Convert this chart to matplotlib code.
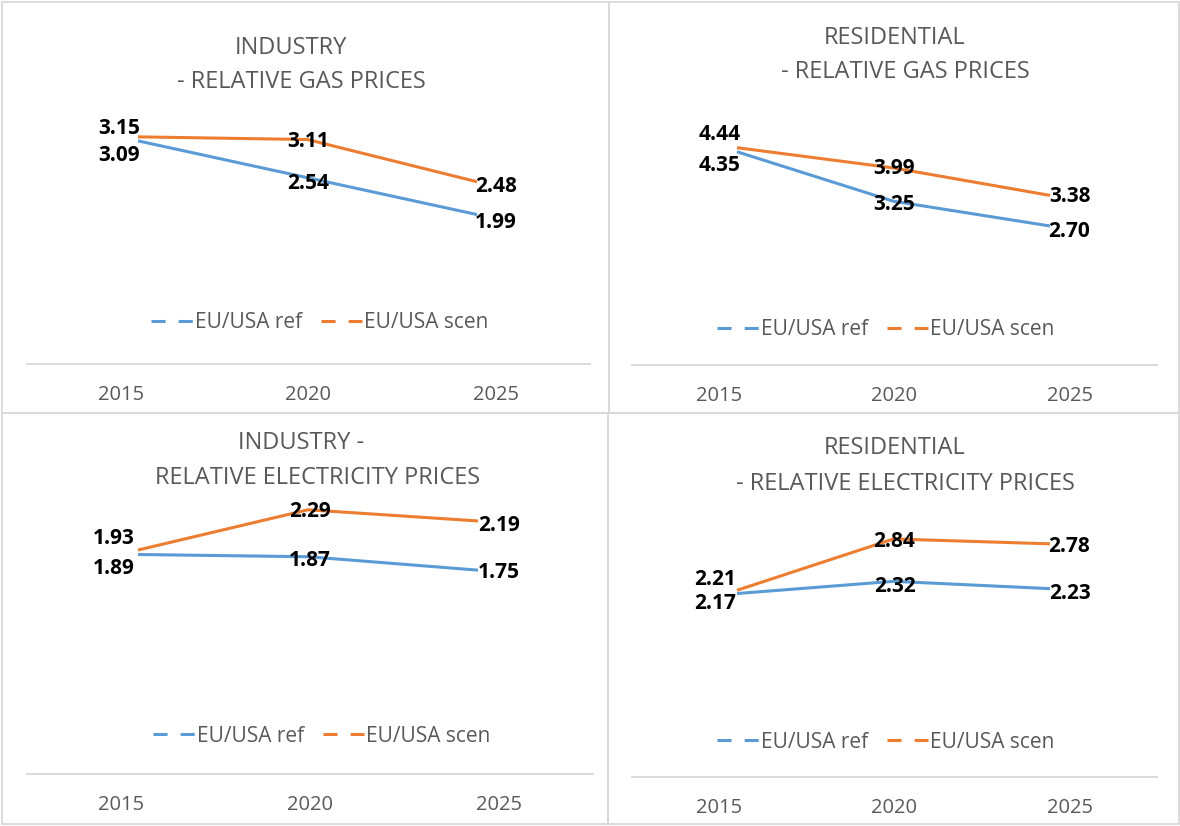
import matplotlib
matplotlib.use("Agg")
import matplotlib.pyplot as plt
from matplotlib.lines import Line2D
from matplotlib.patches import Rectangle

W, H = 1180, 826

years = ["2015", "2020", "2025"]
series_names = ["EU/USA ref", "EU/USA scen"]

ind_gas_ref = [3.09, 2.54, 1.99]
ind_gas_scen = [3.15, 3.11, 2.48]
res_gas_ref = [4.35, 3.25, 2.70]
res_gas_scen = [4.44, 3.99, 3.38]
ind_el_ref = [1.89, 1.87, 1.75]
ind_el_scen = [1.93, 2.29, 2.19]
res_el_ref = [2.17, 2.32, 2.23]
res_el_scen = [2.21, 2.84, 2.78]

BLUE = "#5B9BD5"
ORANGE = "#ED7D31"
GREY = "#595959"
RULE = "#D9D9D9"

plt.rcParams["font.family"] = ["Open Sans", "DejaVu Sans"]

# layout in pixels of the 1180x826 canvas
panels = [
    dict(ref=ind_gas_ref, scen=ind_gas_scen,
         box=(2, 2, 609, 413), ax_x=(27, 590), ax_y=364, pts=(138, 477),
         zero=347.9, scale=67.0, legend=(320, 323),
         titles=[("INDUSTRY", 291, 46), ("- RELATIVE GAS PRICES", 301, 80)],
         ref_dy=[-20, -11, -13], scen_dy=[3, -7.5, -10], dx0=-2),
    dict(ref=res_gas_ref, scen=res_gas_scen,
         box=(609, 2, 1179, 413), ax_x=(632, 1157), ax_y=365, pts=(737, 1050),
         zero=347.5, scale=45.0, legend=(886, 330),
         titles=[("RESIDENTIAL", 895, 35), ("- RELATIVE GAS PRICES", 905, 69)],
         ref_dy=[-19, -9, -11], scen_dy=[7.5, -5.7, -7], dx0=0),
    dict(ref=ind_el_ref, scen=ind_el_scen,
         box=(2, 413, 608, 824), ax_x=(27, 593), ax_y=774, pts=(138, 478),
         zero=765.8, scale=111.8, legend=(322, 736),
         titles=[("INDUSTRY -", 301, 441), ("RELATIVE ELECTRICITY PRICES", 318, 476)],
         ref_dy=[-20, -9.3, -8], scen_dy=[6, -7, -9.6], dx0=-8),
    dict(ref=res_el_ref, scen=res_el_scen,
         box=(608, 413, 1179, 824), ax_x=(632, 1157), ax_y=777, pts=(737, 1050),
         zero=770.4, scale=81.5, legend=(886, 742),
         titles=[("RESIDENTIAL", 895, 446), ("- RELATIVE ELECTRICITY PRICES", 905, 481)],
         ref_dy=[-15, -10.7, -10], scen_dy=[5.3, -8, -8.2], dx0=-4),
]

fig = plt.figure(figsize=(W / 100, H / 100), dpi=100)
fig.patch.set_facecolor("white")

for p in panels:
    bx0, by0, bx1, by1 = p["box"]
    fig.add_artist(Rectangle((bx0 / W, 1 - by1 / H), (bx1 - bx0) / W, (by1 - by0) / H,
                             transform=fig.transFigure, fill=False, ec=RULE, lw=1.3))

    x0, x1 = p["ax_x"]
    top = p["ax_y"] - 270
    ax = fig.add_axes([x0 / W, 1 - p["ax_y"] / H, (x1 - x0) / W, (p["ax_y"] - top) / H])
    ax.patch.set_alpha(0)

    u = 2 / (p["pts"][1] - p["pts"][0])
    xmin = -(p["pts"][0] - x0) * u
    xmax = 2 + (x1 - p["pts"][1]) * u
    ax.set_xlim(xmin, xmax)
    ax.set_ylim(-(p["ax_y"] - p["zero"]) / p["scale"], (p["zero"] - top) / p["scale"])

    xs = [0, 1, 2]
    ax.plot(xs, p["ref"], color=BLUE, lw=2.2, solid_capstyle="butt", zorder=2)
    ax.plot(xs, p["scen"], color=ORANGE, lw=2.2, solid_capstyle="butt", zorder=2)

    bw = (xmax - xmin) / 3
    ticks = [xmin + (i + 0.5) * bw for i in range(3)]
    ax.set_xticks(ticks)
    ax.set_xticklabels(years)
    ax.tick_params(axis="x", length=0, pad=15, labelsize=14.5, labelcolor=GREY)
    ax.set_yticks([])
    for s in ["top", "left", "right"]:
        ax.spines[s].set_visible(False)
    ax.spines["bottom"].set_color(RULE)
    ax.spines["bottom"].set_linewidth(1.4)

    for vals, dys in ((p["ref"], p["ref_dy"]), (p["scen"], p["scen_dy"])):
        for i, (v, dy) in enumerate(zip(vals, dys)):
            dx = p["dx0"] if i == 0 else 0
            ax.annotate(f"{v:.2f}", xy=(ticks[i], v), xytext=(dx, dy),
                        textcoords="offset pixels", ha="center", va="baseline",
                        fontsize=15, fontweight="bold", color="black", zorder=3,
                        annotation_clip=False)

    handles = [Line2D([], [], color=c, lw=2.2, ls=(0, (4.6, 4.3)))
               for c in (BLUE, ORANGE)]
    lx, ly = p["legend"]
    ax.legend(handles, series_names, loc="center", ncol=2, frameon=False,
              bbox_to_anchor=(lx / W, 1 - ly / H), bbox_transform=fig.transFigure,
              fontsize=15, labelcolor=GREY, handlelength=2.0, handletextpad=0.1,
              columnspacing=0.9, borderpad=0, borderaxespad=0)

    for txt, tx, ty in p["titles"]:
        fig.text(tx / W, 1 - (ty + 8.5) / H, txt, ha="center", va="baseline",
                 fontsize=17, color=GREY)

fig.savefig("out.png", dpi=100, facecolor="white")
